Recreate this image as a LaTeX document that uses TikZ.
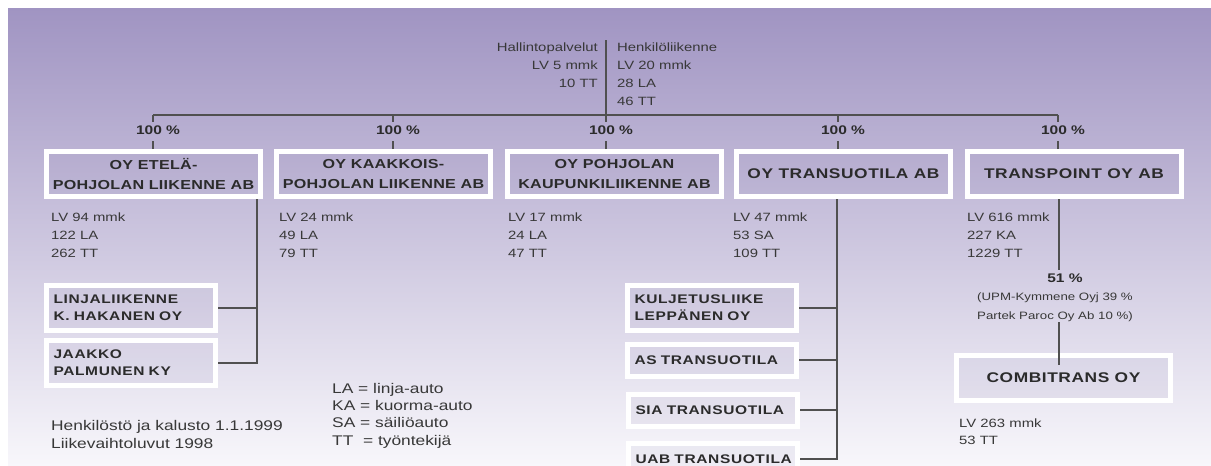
\documentclass[tikz,border=0pt]{standalone}
\usepackage{fontspec}
\setmainfont{Liberation Sans}[FakeStretch=1.24]
\newfontfamily\headfont{Liberation Sans}[FakeStretch=1.24,LetterSpace=2]
\newfontfamily\wideheadfont{Liberation Sans}[FakeStretch=1.24,LetterSpace=4]
\newfontfamily\subfont{Liberation Sans}[FakeStretch=1.24,LetterSpace=5]
\definecolor{bgtop}{HTML}{A094C2}
\definecolor{bgmid}{HTML}{C4BCDB}
\definecolor{bgbot}{HTML}{F8F7FB}
\definecolor{ink}{HTML}{2B2B2B}
\definecolor{txt}{HTML}{383838}
\definecolor{rule}{HTML}{505050}
\definecolor{tint}{HTML}{5A4A8A}

\begin{document}
\begin{tikzpicture}[x=1pt,y=-1pt]
    \tikzstyle{conn}=[draw=rule, line width=1.1pt]
    \tikzstyle{boxframe}=[draw=white, line width=5pt, fill=tint, fill opacity=0.06, text opacity=1, text=ink]
    \tikzstyle{cobox}=[boxframe, minimum width=214pt, minimum height=45pt, align=center, font=\headfont\fontsize{13}{20}\selectfont\bfseries]
    \tikzstyle{cobig}=[cobox, font=\wideheadfont\fontsize{14}{20}\selectfont\bfseries]
    \tikzstyle{subbox}=[boxframe, text width=155pt, inner xsep=7pt, align=left, font=\subfont\fontsize{12.5}{17}\selectfont\bfseries]
    \tikzstyle{info}=[anchor=north west, inner sep=0pt, align=left, text=txt, font=\fontsize{12}{18}\selectfont]
    \tikzstyle{pct}=[text=ink, font=\fontsize{12.5}{15}\selectfont\bfseries]

    \useasboundingbox (0,0) rectangle (1211,466);
    \shade[top color=bgtop, middle color=bgmid, bottom color=bgbot] (8,8) rectangle (1211,466);

    \node[info, anchor=north east, align=right] (n_adm) at (598,43) {Hallintopalvelut\\LV 5 mmk\\10 TT};
    \node[info] (n_pas) at (617,43) {Henkilöliikenne\\LV 20 mmk\\28 LA\\46 TT};
    \coordinate (c_top) at (606,40);
    \coordinate (c_bar) at (606,115);
    \draw[conn] (c_top) -- (c_bar);

    \coordinate (t_1) at (153,115);
    \coordinate (t_2) at (393,115);
    \coordinate (t_3) at (606,115);
    \coordinate (t_4) at (838,115);
    \coordinate (t_5) at (1058,115);
    \draw[conn] (t_1) -- (t_5);

    \node[pct] (p_1) at (158,130) {100 \%};
    \node[pct] (p_2) at (398,130) {100 \%};
    \node[pct] (p_3) at (611,130) {100 \%};
    \node[pct] (p_4) at (843,130) {100 \%};
    \node[pct] (p_5) at (1063,130) {100 \%};

    \node[cobox] (co_1) at (153.5,174) {OY ETELÄ-\\POHJOLAN LIIKENNE AB};
    \node[cobox] (co_2) at (383.5,174) {OY KAAKKOIS-\\POHJOLAN LIIKENNE AB};
    \node[cobox] (co_3) at (614.5,174) {OY POHJOLAN\\KAUPUNKILIIKENNE AB};
    \node[cobig] (co_4) at (843.5,174) {OY TRANSUOTILA AB};
    \node[cobig] (co_5) at (1074,174) {TRANSPOINT OY AB};

    \draw[conn] (t_1) -- ++(0,7);
    \draw[conn] (t_2) -- ++(0,7);
    \draw[conn] (t_3) -- ++(0,7);
    \draw[conn] (t_4) -- ++(0,7);
    \draw[conn] (t_5) -- ++(0,7);
    \draw[conn] (t_1 |- co_1.north) -- ++(0,-8);
    \draw[conn] (t_2 |- co_2.north) -- ++(0,-8);
    \draw[conn] (t_3 |- co_3.north) -- ++(0,-8);
    \draw[conn] (t_4 |- co_4.north) -- ++(0,-8);
    \draw[conn] (t_5 |- co_5.north) -- ++(0,-8);

    \node[info] (i_1) at (51,213) {LV 94 mmk\\122 LA\\262 TT};
    \node[info] (i_2) at (279,213) {LV 24 mmk\\49 LA\\79 TT};
    \node[info] (i_3) at (508,213) {LV 17 mmk\\24 LA\\47 TT};
    \node[info] (i_4) at (733,213) {LV 47 mmk\\53 SA\\109 TT};
    \node[info] (i_5) at (967,213) {LV 616 mmk\\227 KA\\1229 TT};

    \node[subbox, minimum height=45pt] (s_1_1) at (131,308) {LINJALIIKENNE\\K. HAKANEN OY};
    \node[subbox, minimum height=45pt] (s_1_2) at (131,363) {JAAKKO\\PALMUNEN KY};
    \coordinate (v_1) at (257,0);
    \draw[conn] (v_1 |- co_1.south) -- (v_1 |- s_1_2.east) -- (s_1_2.east);
    \draw[conn] (s_1_1.east) -- (v_1 |- s_1_1.east);

    \node[subbox, minimum height=45pt] (s_4_1) at (712,308) {KULJETUSLIIKE\\LEPPÄNEN OY};
    \node[subbox, minimum height=32pt] (s_4_2) at (712,360) {\mbox{AS TRANSUOTILA}};
    \node[subbox, minimum height=32pt] (s_4_3) at (713,410) {\mbox{SIA TRANSUOTILA}};
    \node[subbox, minimum height=32pt] (s_4_4) at (713,459) {\mbox{UAB TRANSUOTILA}};
    \coordinate (v_4) at (837,0);
    \draw[conn] (v_4 |- co_4.south) -- (v_4 |- s_4_4.east) -- (s_4_4.east);
    \draw[conn] (s_4_1.east) -- (v_4 |- s_4_1.east);
    \draw[conn] (s_4_2.east) -- (v_4 |- s_4_2.east);
    \draw[conn] (s_4_3.east) -- (v_4 |- s_4_3.east);

    \node[pct] (p_6) at (1065,278) {51 \%};
    \node[info, anchor=center, align=center, font=\fontsize{10.7}{19}\selectfont] (o_5) at (1055,307.5) {(UPM-Kymmene Oyj 39 \%\\Partek Paroc Oy Ab 10 \%)};
    \node[cobig] (co_6) at (1063.5,378) {COMBITRANS OY};
    \node[info, font=\fontsize{12}{17}\selectfont] (i_6) at (959,419) {LV 263 mmk\\53 TT};
    \coordinate (v_5) at (1059,0);
    \coordinate (c_6) at ([yshift=-12pt]co_6.north);
    \draw[conn] (v_5 |- co_5.south) -- (v_5 |- p_6.north);
    \draw[conn] (v_5 |- o_5.south) -- (v_5 |- c_6);

    \node[info, font=\fontsize{14}{18}\selectfont] (n_note) at (51,420) {Henkilöstö ja kalusto 1.1.1999\\Liikevaihtoluvut 1998};
    \node[info, font=\fontsize{14}{17.3}\selectfont] (n_key) at (332,383) {LA = linja-auto\\KA = kuorma-auto\\SA = säiliöauto\\TT\ \ = työntekijä};
\end{tikzpicture}
\end{document}
